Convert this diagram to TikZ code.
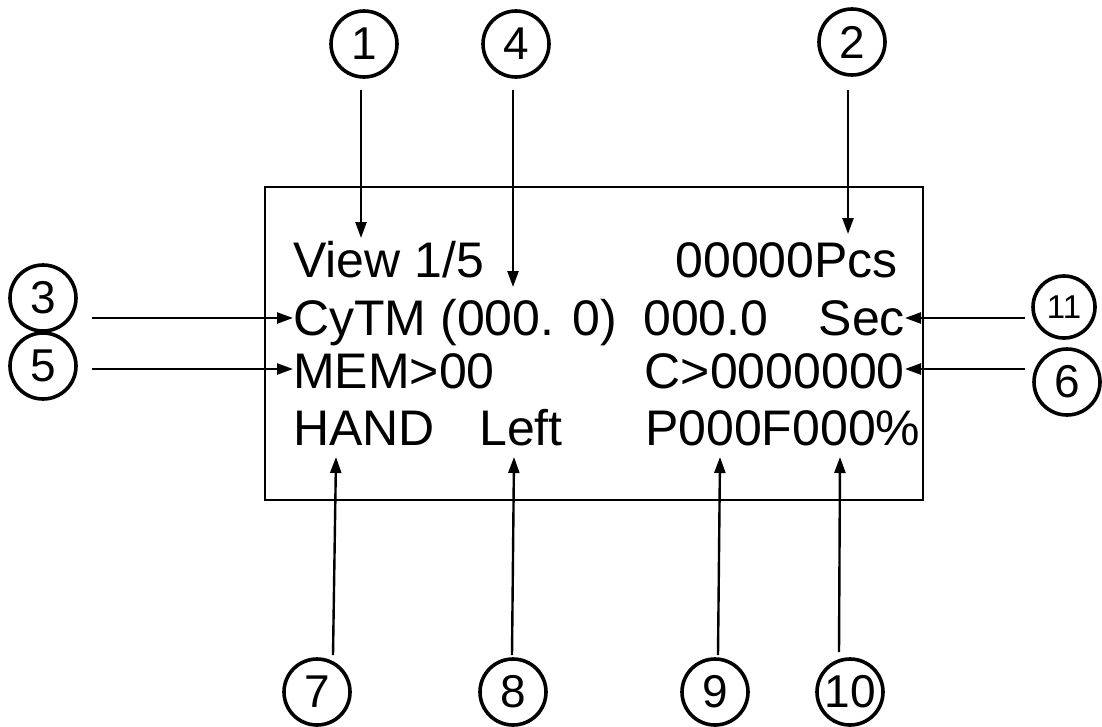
\documentclass[tikz,border=0pt]{standalone}
\usepackage{fontspec}
\setmainfont{Liberation Sans}
\usetikzlibrary{arrows.meta}

\begin{document}
\begin{tikzpicture}[
  x=1pt, y=-1pt,
  callout/.style={draw, circle, line width=3.6pt, minimum size=66pt, inner sep=0pt, font=\fontsize{46}{46}\selectfont},
  smallcallout/.style={callout, minimum size=62pt, font=\fontsize{33}{33}\selectfont},
  lcd/.style={inner sep=0pt, font=\fontsize{50}{50}\selectfont},
  arr/.style={-{Triangle[length=16pt, width=11pt]}, line width=2.4pt}
]
\useasboundingbox (0,0) rectangle (1102,726);

% display frame
\draw[line width=2.6pt] (265,187) rectangle (923,500);

% display texts
\node[lcd, anchor=base west] (view) at (293,277) {View 1/5};
\node[lcd, anchor=base east] (pcs) at (898,277) {00000Pcs};
\node[lcd, anchor=base west] (cytm) at (293,335) {CyTM (000. 0)};
\node[lcd, anchor=base west] (time) at (643,335) {000.0};
\node[lcd, anchor=base east] (sec) at (905,335) {Sec};
\node[lcd, anchor=base west] (mem) at (293,388) {MEM>00};
\node[lcd, anchor=base east] (count) at (905,388) {C>0000000};
\node[lcd, anchor=base west] (hand) at (293,445) {HAND};
\node[lcd, anchor=base west] (left) at (479,445) {Left};
\node[lcd, anchor=base west] (pf) at (645,445) {P000F000\%};

% numbered callouts
\node[callout] (n1) at (364,44) {1};
\node[callout] (n4) at (516,44) {4};
\node[callout] (n2) at (852,42) {2};
\node[callout] (n3) at (43,298) {3};
\node[callout] (n5) at (43,366) {5};
\node[smallcallout] (n11) at (1064,307) {11};
\node[callout] (n6) at (1067,382) {6};
\node[callout] (n7) at (317,692) {7};
\node[callout] (n8) at (513,692) {8};
\node[callout] (n9) at (715,692) {9};
\node[callout] (n10) at (850,692) {10};

% leader ends
\coordinate (t1) at (361,90);
\coordinate (t4) at (513,90);
\coordinate (t2) at (848,90);
\coordinate (t3) at (92,318);
\coordinate (t5) at (92,369);
\coordinate (t11) at (1025,318);
\coordinate (t6) at (1025,369);
\coordinate (t7) at (333,655);
\coordinate (t8) at (512,655);
\coordinate (t9) at (718,655);
\coordinate (t10) at (839,652);

% arrows into the display
\draw[arr] (t1) -- (361,238);
\draw[arr] (t4) -- (513,287);
\draw[arr] (t2) -- (848,234);
\draw[arr] (t3) -- (cytm.west |- t3);
\draw[arr] (t5) -- (mem.west |- t5);
\draw[arr] (t11) -- (sec.east |- t11);
\draw[arr] (t6) -- (count.east |- t6);
\draw[arr] (t7) -- (336,457);
\draw[arr] (t8) -- (514,457);
\draw[arr] (t9) -- (720,457);
\draw[arr] (t10) -- (840,457);

\end{tikzpicture}
\end{document}
